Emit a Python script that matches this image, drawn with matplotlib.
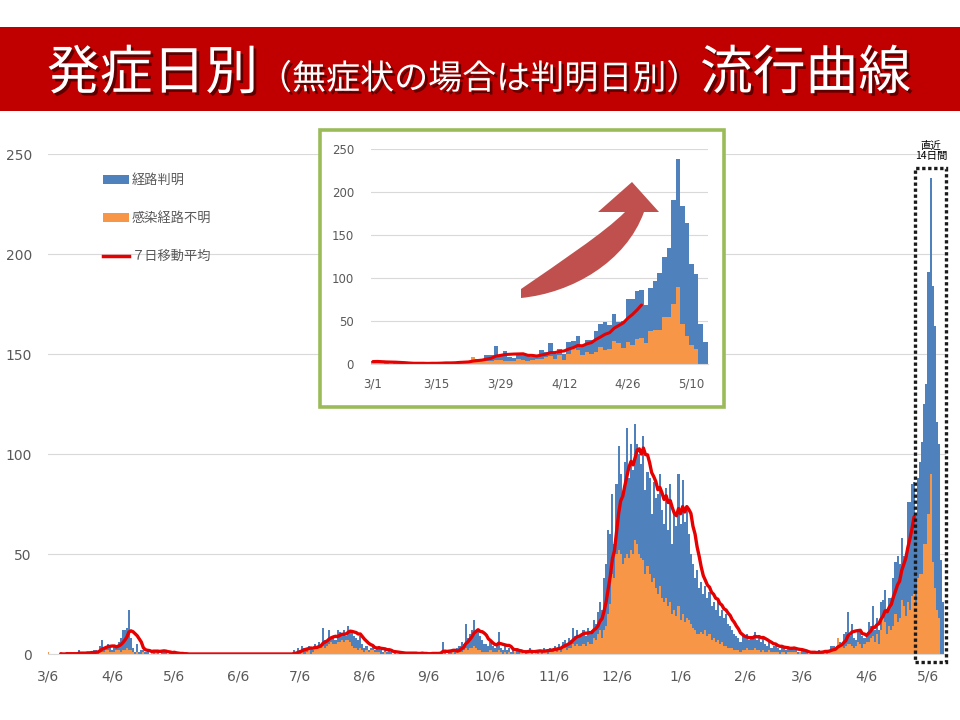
import numpy as np
import pandas as pd
import matplotlib
matplotlib.use("Agg")
import matplotlib.pyplot as plt
from matplotlib.patches import Rectangle, PathPatch
from matplotlib.path import Path
from matplotlib.lines import Line2D
from matplotlib.transforms import Affine2D
import matplotlib.patheffects as pe

# ---------------- data (daily, from 2020-03-06) ----------------
start_date = "2020-03-06"

# total daily cases (経路判明 + 感染経路不明)
total_2020_spring = [1,0,0,0,0,0,0,0,0,1, 0,0,0,0,0,2,1,0,0,1, 0,1,2,2,1,4,7,3,4,5,
                     3,2,4,4,6,8,12,12,13,22, 8,3,1,5,1,2,2,1,1,0, 2,2,2,2,0,2,1,1,0,1,
                     0,1,0]
total_2020_quiet = [0] * 56
total_2020_summer = [2,1,3,2,4,3,2,4,3,2, 5,4,6,5,13,7,6,12,8,9, 7,12,11,10,12,9,14,12,11,9,
                     8,7,9,5,3,4,2,3,4,2, 3,4,2,1,2,1,2,1,0,1, 0,1,0,1,0,0,1,0,1,0,
                     0,0,1,0,0,0]
total_2020_autumn = [0,1,0,1,0,1,6,1,0,1, 2,2,1,3,4,6,5,15,8,10, 12,17,12,11,9,7,5,5,4,6,
                     4,3,5,11,3,2,4,2,3,1, 2,1,2,1,1,0,1,2,3,1, 0,2,1]
total_2020_winter = [2,1,3,2,1,3,2,4,2,5, 3,6,7,5,8,7,13,9,12,8, 10,12,9,13,11,12,17,15,21,26,
                     22,38,45,62,60,80,55,85,104,90, 78,96,113,88,105,92,115,105,100,95,
                     109,82,91,88,70,86,78,80,90,72, 65,83,62,85,55,70,64,90,65,87,
                     66,74,60,50,45,38,42,33,36,30, 34,28,31,24,26,22,27,19,22,18,
                     20,15,14,12,10,9,8,6,9,8, 10,7,9,8,11,7,9,6,8,5,
                     4,6,3,4,5,3,2,4,3,2, 3,3]
total_2021_spring = [3,3,2,1,1,2,1,1,0,0, 1,1,1,2,1,1,2,1,2,4, 4,3,8,6,5,10,11,21,9,15,
                     8,7,11,12,9,8,10,16,14,24, 12,18,12,26,27,32,21,28,28,38,
                     46,49,45,58,49,50,76,76,85,86, 69,88,96,106,125,135,191,238,184,164,
                     116,105,47,26]

# 感染経路不明 (unknown route)
unknown_2020_spring = [1,0,0,0,0,0,0,0,0,0, 0,0,0,0,0,1,0,0,0,0, 0,0,1,0,0,1,1,1,2,2,
                       1,1,1,2,2,1,2,2,3,2, 2,1,0,1,0,0,1,0,0,0, 1,0,1,0,0,0,0,0,0,0,
                       0,0,0]
unknown_2020_quiet = [0] * 56
unknown_2020_summer = [0,0,0,0,1,0,1,2,0,1, 3,3,4,3,4,3,4,5,6,5, 5,6,6,7,6,7,7,6,4,3,
                       3,2,3,2,1,2,1,2,2,1, 1,1,0,0,1,0,0,0,0,0, 0,0,0,0,0,0,0,0,0,0,
                       0,0,0,0,0,0]
unknown_2020_autumn = [0,0,0,0,0,0,1,0,0,0, 0,1,0,1,1,1,2,3,2,3, 3,4,3,2,2,1,1,1,1,2,
                       1,1,1,2,1,0,1,0,1,0, 0,1,0,0,1,0,0,1,1,0, 0,1,0]
unknown_2020_winter = [1,0,1,1,0,1,1,2,1,2, 1,3,3,2,3,3,5,4,5,4, 4,5,4,6,5,5,8,7,10,12,
                       8,12,14,20,25,40,38,50,52,50, 45,48,50,48,52,50,57,55,50,48,
                       47,40,44,40,36,38,33,30,34,28, 26,28,24,26,20,22,19,24,17,20,
                       16,18,17,15,13,12,10,10,11,10, 12,9,10,7,8,6,7,5,6,4,
                       4,3,3,3,2,2,2,1,2,2, 3,2,2,2,3,2,2,1,2,1,
                       1,2,1,1,1,1,0,1,1,0, 1,1]
unknown_2021_spring = [1,1,1,0,1,0,0,0,0,0, 0,1,0,1,0,0,1,0,1,2, 3,2,8,5,4,3,4,5,5,4,
                       3,4,6,5,3,5,6,6,8,9, 6,10,5,12,20,16,10,14,12,14,
                       20,16,18,27,24,19,26,22,29,30, 25,38,40,40,55,55,70,90,46,33,
                       22,18,0,0]

main_tick_labels = ["3/6", "4/6", "5/6", "6/6", "7/6", "8/6", "9/6", "10/6", "11/6",
                    "12/6", "1/6", "2/6", "3/6", "4/6", "5/6"]
inset_tick_labels = ["3/1", "3/15", "3/29", "4/12", "4/26", "5/10"]
legend_labels = ["経路判明", "感染経路不明", "７日移動平均"]

total = np.array(total_2020_spring + total_2020_quiet + total_2020_summer +
                 total_2020_autumn + total_2020_winter + total_2021_spring, dtype=float)
unknown = np.array(unknown_2020_spring + unknown_2020_quiet + unknown_2020_summer +
                   unknown_2020_autumn + unknown_2020_winter + unknown_2021_spring, dtype=float)
known = total - unknown

dates = pd.date_range(start_date, periods=len(total), freq="D")
t0 = dates[0]
day = np.array([(d - t0).days for d in dates])
ma7 = pd.Series(total).rolling(7).mean().to_numpy()
ma_last = (pd.Timestamp("2021-04-29") - t0).days
inset_first = (pd.Timestamp("2021-03-01") - t0).days
box_first = (pd.Timestamp("2021-04-30") - t0).days

main_tick_dates = pd.date_range("2020-03-01", "2021-05-01", freq="MS") + pd.Timedelta(days=5)
main_tick_pos = [(d - t0).days for d in main_tick_dates]

# ---------------- figure ----------------
W, H = 960, 720
fig = plt.figure(figsize=(9.6, 7.2), dpi=100)
fig.patch.set_facecolor("white")
px2fig = Affine2D().scale(1 / W, -1 / H).translate(0, 1) + fig.transFigure

def fx(px):
    return px / W

def fy(py):
    return 1 - py / H

BLUE = "#4F81BD"
ORANGE = "#F79646"
RED = "#E60000"
GRID = "#D9D9D9"
TXT = "#595959"
CJK = ["Noto Sans CJK JP", "DejaVu Sans"]

# ---------------- title banner ----------------
fig.add_artist(Rectangle((0, fy(111)), 1, 84 / H, transform=fig.transFigure,
                         facecolor="#C00000", edgecolor="none", zorder=1))
shadow = [pe.withSimplePatchShadow(offset=(2, -2), shadow_rgbFace="black", alpha=0.5)]
base_y = fy(89)
fig.text(fx(47), base_y, "発症日別", fontsize=38, color="white", family=CJK,
         va="baseline", ha="left", zorder=2, path_effects=shadow)
fig.text(fx(258), base_y, "（無症状の場合は判明日別）", fontsize=24.5, color="white",
         family=CJK, va="baseline", ha="left", zorder=2, path_effects=shadow)
fig.text(fx(700), base_y, "流行曲線", fontsize=38, color="white", family=CJK,
         va="baseline", ha="left", zorder=2, path_effects=shadow)

# ---------------- main chart ----------------
ax = fig.add_axes([fx(47.9), fy(654), (946.3 - 47.9) / W, (654 - 154) / H], zorder=0)
ax.bar(day, unknown, width=1.0, color=ORANGE, linewidth=0)
ax.bar(day, known, bottom=unknown, width=1.0, color=BLUE, linewidth=0)
ax.plot(day[6:ma_last + 1], ma7[6:ma_last + 1], color=RED, lw=2.4, solid_capstyle="round")
ax.set_xlim(-0.2, 434.6)
ax.set_ylim(0, 250)
ax.set_yticks([0, 50, 100, 150, 200, 250])
ax.set_xticks(main_tick_pos)
ax.set_xticklabels(main_tick_labels)
ax.tick_params(axis="both", length=0, labelsize=10, labelcolor=TXT)
ax.tick_params(axis="x", pad=11.5)
ax.tick_params(axis="y", pad=11.5)
ax.yaxis.grid(True, color=GRID, lw=0.8)
ax.set_axisbelow(True)
for s in ["top", "right", "left"]:
    ax.spines[s].set_visible(False)
ax.spines["bottom"].set_color(GRID)

# dotted box: last 14 days
ax.add_patch(Rectangle((box_first - 0.4, -3.8), 434.5 - (box_first - 0.4), 246.8,
                       fill=False, edgecolor="#1A1A1A", lw=2.4, ls=(0, (1, 0.8)),
                       clip_on=False, zorder=6))
fig.text(fx(931), fy(151), "直近\n14日間", fontsize=7.5, color="black", family=CJK,
         ha="center", va="center", linespacing=1.1)

# manual legend
fig.add_artist(Rectangle((fx(103), fy(184)), 26 / W, 9 / H, transform=fig.transFigure,
                         facecolor=BLUE, edgecolor="none", zorder=3))
fig.add_artist(Rectangle((fx(103), fy(222)), 26 / W, 9 / H, transform=fig.transFigure,
                         facecolor=ORANGE, edgecolor="none", zorder=3))
fig.add_artist(Line2D([fx(103), fx(129)], [fy(256), fy(256)], transform=fig.transFigure,
                      color=RED, lw=2.5, zorder=3))
for y, lab in zip([180, 218, 256], legend_labels):
    fig.text(fx(132), fy(y), lab, fontsize=9.5, color=TXT, family=CJK,
             ha="left", va="center", zorder=3)

# ---------------- inset ----------------
fig.add_artist(Rectangle((fx(320), fy(407)), (724 - 320) / W, (407 - 130) / H,
                         transform=fig.transFigure, facecolor="white",
                         edgecolor="#9BBB59", lw=2.6, zorder=4))
iax = fig.add_axes([fx(370.7), fy(364), (707.5 - 370.7) / W, (364 - 149) / H], zorder=5)
iax.patch.set_alpha(0)
sl = slice(inset_first, len(total))
idays = day[sl] - inset_first
iax.bar(idays, unknown[sl], width=1.0, color=ORANGE, linewidth=0)
iax.bar(idays, known[sl], bottom=unknown[sl], width=1.0, color=BLUE, linewidth=0)
iax.plot(day[inset_first:ma_last + 1] - inset_first, ma7[inset_first:ma_last + 1],
         color=RED, lw=2.2, solid_capstyle="round")
iax.set_xlim(-0.5, 73.5)
iax.set_ylim(0, 250)
iax.set_yticks([0, 50, 100, 150, 200, 250])
iax.set_xticks([0, 14, 28, 42, 56, 70])
iax.set_xticklabels(inset_tick_labels)
iax.tick_params(axis="both", length=0, labelsize=8.5, labelcolor=TXT)
iax.tick_params(axis="x", pad=10)
iax.tick_params(axis="y", pad=12)
iax.yaxis.grid(True, color=GRID, lw=0.8)
iax.set_axisbelow(True)
for s in ["top", "right", "left"]:
    iax.spines[s].set_visible(False)
iax.spines["bottom"].set_color(GRID)

# curved arrow in the inset
verts = [(521, 298),
         (572, 293), (626, 262), (644, 212),
         (659, 212), (632, 182), (598, 212), (625, 212),
         (604, 233), (560, 262), (521, 289),
         (521, 298)]
codes = [Path.MOVETO, Path.CURVE4, Path.CURVE4, Path.CURVE4,
         Path.LINETO, Path.LINETO, Path.LINETO, Path.LINETO,
         Path.CURVE4, Path.CURVE4, Path.CURVE4, Path.CLOSEPOLY]
fig.add_artist(PathPatch(Path(verts, codes), transform=px2fig, facecolor="#C0504D",
                         edgecolor="none", zorder=6))

fig.savefig("out.png", dpi=100)
